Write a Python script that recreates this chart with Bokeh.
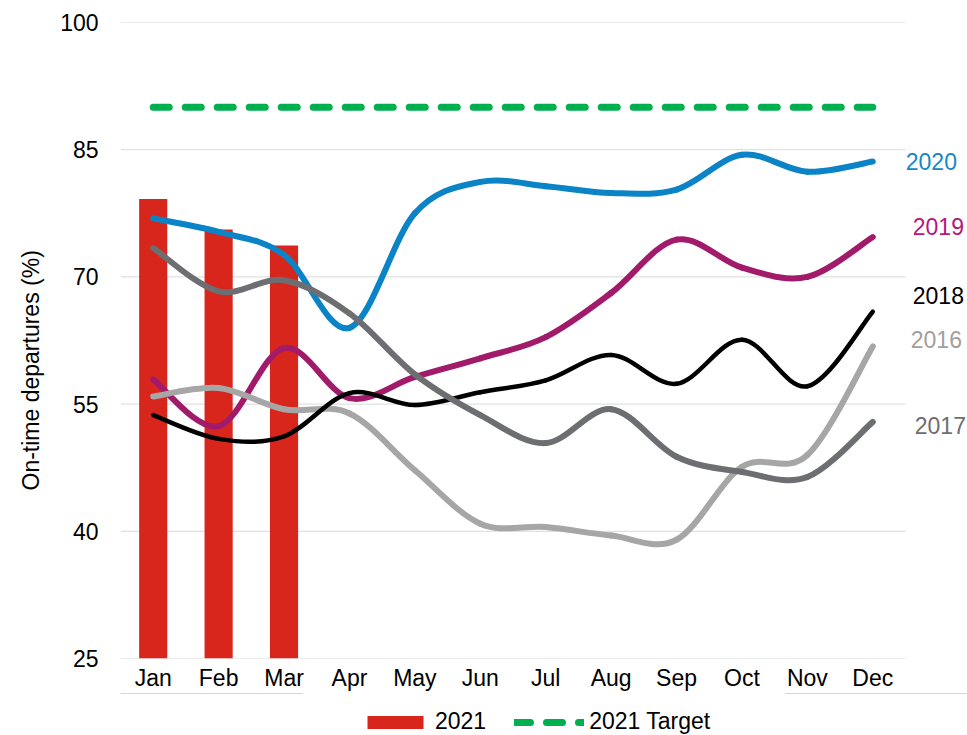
from bokeh.plotting import figure
from bokeh.layouts import column
from bokeh.models import Range1d, FixedTicker, Legend, LegendItem, Title
from bokeh.core.properties import value
from bokeh.embed import file_html
from bokeh.resources import INLINE

months = ["Jan", "Feb", "Mar", "Apr", "May", "Jun", "Jul", "Aug", "Sep", "Oct", "Nov", "Dec"]
y_ticks = [25, 40, 55, 70, 85, 100]

bars_2021 = [79.2, 75.6, 73.7]
target_2021 = [90, 90, 90, 90, 90, 90, 90, 90, 90, 90, 90, 90]
s2020 = [76.9, 75.3, 72.6, 64.0, 77.5, 81.2, 80.7, 79.9, 80.3, 84.4, 82.4, 83.6]
s2019 = [57.9, 52.4, 61.6, 55.7, 58.2, 60.4, 62.9, 68.1, 74.4, 71.1, 70.0, 74.7]
s2018 = [53.7, 50.9, 51.2, 56.3, 54.9, 56.4, 57.8, 60.8, 57.4, 62.6, 57.1, 65.9]
s2017 = [73.4, 68.3, 69.6, 65.7, 58.5, 53.7, 50.4, 54.4, 48.8, 47.0, 46.4, 52.9]
s2016 = [55.9, 56.9, 54.4, 53.9, 47.2, 40.9, 40.5, 39.5, 39.0, 47.6, 49.0, 61.8]

FONT = "Liberation Sans"
FS = "23px"
RED = "#d9261c"
GREEN = "#00b050"

# x: categories at 0..11, plot area spans -0.5..11.5, extra room at right for end labels
X_LO, X_HI, X_PAD = -0.5, 11.5, 0.948

p = figure(output_backend="svg", toolbar_location=None,
           frame_width=847, frame_height=636,
           x_range=Range1d(X_LO, X_HI + X_PAD), y_range=Range1d(25, 100),
           min_border_left=120, min_border_right=0, min_border_top=22,
           min_border_bottom=0)
p.outline_line_color = None
p.background_fill_color = "white"
p.border_fill_color = "white"

# axes
p.xaxis.ticker = FixedTicker(ticks=list(range(len(months))))
p.xaxis.major_label_overrides = {i: m for i, m in enumerate(months)}
p.yaxis.ticker = FixedTicker(ticks=y_ticks)
for ax in (p.xaxis[0], p.yaxis[0]):
    ax.axis_line_color = None
    ax.major_tick_line_color = None
    ax.minor_tick_line_color = None
    ax.major_tick_in = 0
    ax.major_tick_out = 0
    ax.major_label_text_font = FONT
    ax.major_label_text_font_size = FS
    ax.major_label_text_color = "black"
p.xaxis.major_label_standoff = 6
p.xaxis.axis_label_standoff = 0
p.yaxis.major_label_standoff = 22
p.xgrid.grid_line_color = None
p.ygrid.grid_line_color = None

title = Title(text="On-time departures (%)", align="left", offset=168,
              standoff=27, text_font=FONT, text_font_size=FS,
              text_font_style="normal", text_color="black")
p.add_layout(title, "left")

# horizontal gridlines limited to the plot area
p.segment(x0=[X_LO] * len(y_ticks), x1=[X_HI] * len(y_ticks), y0=y_ticks, y1=y_ticks,
          line_color="#d9d9d9", line_width=1)

# bars
p.vbar(x=list(range(len(bars_2021))), top=bars_2021, bottom=25, width=0.43,
       fill_color=RED, line_color=None)


def bez(xs, ys):
    n = len(xs)
    d = dict(x0=[], y0=[], x1=[], y1=[], cx0=[], cy0=[], cx1=[], cy1=[])
    for i in range(n - 1):
        a = i - 1 if i > 0 else i
        b = i + 2 if i + 2 < n else i + 1
        d["x0"].append(xs[i]); d["y0"].append(ys[i])
        d["x1"].append(xs[i + 1]); d["y1"].append(ys[i + 1])
        d["cx0"].append(xs[i] + (xs[i + 1] - xs[a]) / 6)
        d["cy0"].append(ys[i] + (ys[i + 1] - ys[a]) / 6)
        d["cx1"].append(xs[i + 1] - (xs[b] - xs[i]) / 6)
        d["cy1"].append(ys[i + 1] - (ys[b] - ys[i]) / 6)
    return d


xs = list(range(len(months)))
series = [
    (s2019, "#a21b6b", 6),
    (s2020, "#0a84c6", 6),
    (s2016, "#a6a6a6", 6),
    (s2018, "#000000", 4.5),
    (s2017, "#6d6e71", 6),
]
for ys, col, w in series:
    p.bezier(**bez(xs, ys), line_color=col, line_width=w, line_cap="round")

p.line(xs, target_2021, line_color=GREEN, line_width=7,
       line_dash="16 16", line_cap="round")

# end labels (series names next to the December point)
end_labels = [
    ("2020", s2020, "#1787c7", 33, 0),
    ("2019", s2019, "#b5177c", 40, -11),
    ("2018", s2018, "#000000", 40, -16),
    ("2016", s2016, "#a0a0a0", 38, -7),
    ("2017", s2017, "#6d6e71", 42, 4),
]
for txt, ys, col, xo, yo in end_labels:
    p.text(x=[xs[-1]], y=[ys[-1]], text=[txt], x_offset=xo, y_offset=yo,
           text_color=col, text_font=value(FONT), text_font_size=FS,
           text_baseline="middle", text_align="left")

# legend strip under the chart (its frame is aligned with the chart's frame)
lg = figure(output_backend="svg", toolbar_location=None, width=967, height=44,
            x_range=Range1d(0, 1), y_range=Range1d(0, 1),
            x_axis_type=None, y_axis_type=None, min_border=0)
lg.outline_line_color = None
lg.background_fill_color = "white"
lg.border_fill_color = "white"
# legend proxies: the same series, lying outside this strip's visible ranges
bar_proxy = lg.vbar(x=list(range(len(bars_2021))), top=bars_2021, bottom=25,
                    width=0.43, fill_color=RED, line_color=None)
line_proxy = lg.line(x=xs, y=target_2021, line_color=GREEN, line_width=7,
                     line_dash="16 16", line_cap="round")
legend = Legend(items=[LegendItem(label="2021", renderers=[bar_proxy]),
                       LegendItem(label="2021 Target", renderers=[line_proxy])],
                orientation="horizontal", location=(240, 2),
                glyph_width=70, glyph_height=16, label_standoff=5, spacing=28,
                label_height=20, label_text_font=FONT, label_text_font_size=FS,
                label_text_color="black",
                border_line_color=None, background_fill_alpha=0,
                padding=0, margin=0)
lg.add_layout(legend, "center")

layout = column(p, lg, spacing=0)
open("out.html", "w").write(file_html(layout, INLINE))
